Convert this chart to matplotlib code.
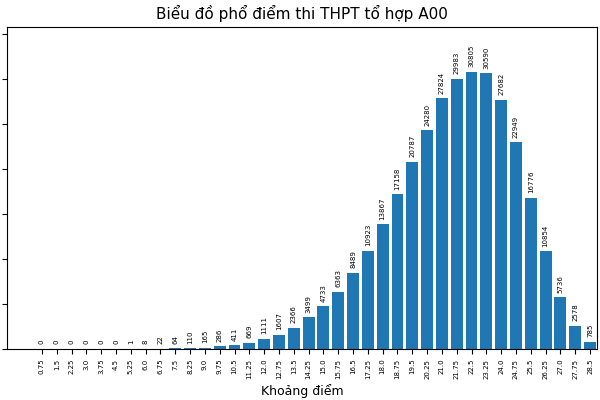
import matplotlib.pyplot as plt
import numpy as np

diem = ['0.75', '1.5', '2.25', '3.0', '3.75', '4.5', '5.25', '6.0', '6.75', '7.5',
        '8.25', '9.0', '9.75', '10.5', '11.25', '12.0', '12.75', '13.5', '14.25', '15.0',
        '15.75', '16.5', '17.25', '18.0', '18.75', '19.5', '20.25', '21.0', '21.75', '22.5',
        '23.25', '24.0', '24.75', '25.5', '26.25', '27.0', '27.75', '28.5']
so_luong = [0, 0, 0, 0, 0, 0, 1, 8, 22, 64,
            110, 165, 286, 411, 669, 1111, 1607, 2366, 3499, 4733,
            6363, 8489, 10923, 13867, 17158, 20787, 24280, 27824, 29983, 30805,
            30590, 27682, 22949, 16776, 10854, 5736, 2578, 785]

fig = plt.figure(figsize=(6, 4), dpi=100)
ax = fig.add_axes([7 / 600, 51 / 400, 590 / 600, 322 / 400])
x = np.arange(len(diem))
bars = ax.bar(x, so_luong, width=0.8, color='#1f77b4')
for xi, v in zip(x, so_luong):
    ax.text(xi, v + 500, str(v), rotation=90, ha='center', va='bottom', fontsize=5)
ax.set_xticks(x)
ax.set_xticklabels(diem, rotation=90, fontsize=5)
ax.set_yticks(np.arange(0, 35001, 5000))
ax.set_yticklabels([])
ax.set_xlim(-2.36, 37.47)
ax.set_ylim(0, 35750)
ax.set_title('Biểu đồ phổ điểm thi THPT tổ hợp A00', fontsize=11)
ax.set_xlabel('Khoảng điểm', fontsize=9)
fig.savefig('out.png')
